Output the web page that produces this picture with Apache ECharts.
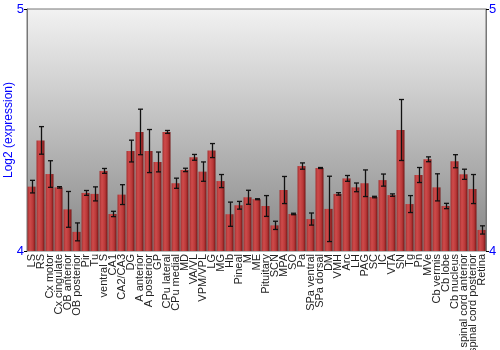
<!DOCTYPE html>
<html><head><meta charset="utf-8">
<script src="https://cdn.jsdelivr.net/npm/echarts@6/dist/echarts.min.js"></script>
<style>html,body{margin:0;padding:0;background:#fff}#c{width:500px;height:350px}</style>
</head><body><div id="c"></div>
<script>
const categories = ["LS","RS","Cx motor","Cx cingulate","OB anterior","OB posterior","Pir","Tu","ventral S","CA1","CA2/CA3","DG","A anterior","A posterior","GP","CPu lateral","CPu medial","MD","VA/VL","VPM/VPL","LG","MG","Hb","Pineal","M","ME","Pituitary","SCN","MPA","SO","Pa","SPa ventral","SPa dorsal","DM","VMH","Arc","LH","PAG","SC","IC","VTA","SN","Tg","Pn","MVe","Cb vermis","Cb lobe","Cb nucleus","spinal cord anterior","spinal cord posterior","Retina"];
const values = [4.266,4.457,4.318,4.263,4.172,4.079,4.240,4.236,4.331,4.153,4.233,4.413,4.492,4.413,4.368,4.492,4.280,4.335,4.387,4.328,4.415,4.289,4.152,4.189,4.222,4.214,4.186,4.106,4.252,4.153,4.351,4.132,4.343,4.174,4.236,4.300,4.263,4.280,4.223,4.293,4.231,4.500,4.194,4.314,4.379,4.263,4.186,4.371,4.317,4.256,4.087];
const errors = [0.026,0.057,0.055,0.003,0.074,0.037,0.010,0.029,0.010,0.011,0.041,0.045,0.094,0.089,0.041,0.006,0.021,0.007,0.012,0.040,0.029,0.027,0.050,0.016,0.029,0.002,0.043,0.017,0.056,0.003,0.013,0.025,0.002,0.135,0.005,0.012,0.018,0.055,0.003,0.025,0.005,0.126,0.035,0.031,0.010,0.056,0.011,0.027,0.021,0.060,0.017];
const yTicks = [4, 5];

const chart = echarts.init(document.getElementById('c'));
const errData = values.map((v, i) => [i, v - errors[i], v + errors[i]]);
const blue = '#0000ff';
const yAxisBase = {
  type: 'value', min: yTicks[0], max: yTicks[1], interval: 1,
  axisLine: {show: true, lineStyle: {color: '#777', width: 1}},
  axisTick: {show: true, length: 3, lineStyle: {color: '#000'}},
  axisLabel: {color: blue, fontSize: 13, fontFamily: 'Liberation Sans', margin: 3},
  splitLine: {show: false}
};
chart.setOption({
  animation: false,
  grid: {left: 27, right: 14, top: 9, bottom: 99, containLabel: false, outerBoundsMode: 'none',
    show: true, borderColor: '#777', borderWidth: 1,
    backgroundColor: new echarts.graphic.LinearGradient(0, 0, 0, 1, [
      {offset: 0, color: '#f2f2f2'}, {offset: 0.5, color: '#bdbdbd'}, {offset: 1, color: '#858585'}])},
  xAxis: {
    type: 'category', data: categories,
    axisLine: {show: false}, axisTick: {show: false},
    axisLabel: {rotate: 90, interval: 0, fontSize: 11, color: '#222', fontFamily: 'Liberation Sans', margin: 3}
  },
  yAxis: [
    Object.assign({}, yAxisBase, {position: 'left', name: 'Log2 (expression)', nameLocation: 'middle', nameGap: 12,
      nameMoveOverlap: false,
      nameTextStyle: {color: blue, fontSize: 12, fontFamily: 'Liberation Sans'}}),
    Object.assign({}, yAxisBase, {position: 'right'})
  ],
  series: [
    {
      type: 'bar', data: values, barCategoryGap: '11%',
      itemStyle: {color: new echarts.graphic.LinearGradient(0, 0, 1, 0, [
        {offset: 0, color: '#a33030'}, {offset: 0.3, color: '#cf4b4b'},
        {offset: 0.7, color: '#b83737'}, {offset: 1, color: '#741414'}])}
    },
    {
      type: 'custom', data: errData, z: 5,
      renderItem: function (params, api) {
        const x = api.value(0);
        const lo = api.coord([x, api.value(1)]);
        const hi = api.coord([x, api.value(2)]);
        const cx = Math.round(lo[0]) + 0.5;
        const hw = 2.5;
        const st = {stroke: '#111', lineWidth: 1.3};
        return {type: 'group', children: [
          {type: 'line', shape: {x1: cx, y1: hi[1], x2: cx, y2: lo[1]}, style: st},
          {type: 'line', shape: {x1: cx - hw, y1: hi[1], x2: cx + hw, y2: hi[1]}, style: st},
          {type: 'line', shape: {x1: cx - hw, y1: lo[1], x2: cx + hw, y2: lo[1]}, style: st}
        ]};
      }
    }
  ]
});
</script></body></html>
